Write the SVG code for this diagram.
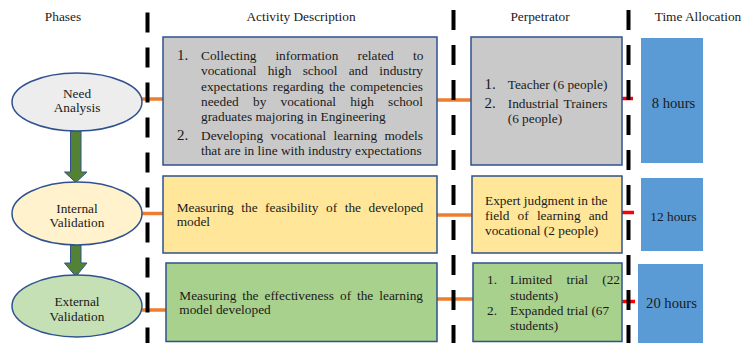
<svg xmlns="http://www.w3.org/2000/svg" width="752" height="343" viewBox="0 0 752 343">
<style>
text{font-family:"Liberation Serif","Times New Roman",serif;font-size:13.33px;fill:#1a1a1a}
.hd{text-anchor:middle}
.c{text-anchor:middle}
.num{font-size:15px}
.box{stroke:#2F528F;stroke-width:1.5}
.time{fill:#5B9BD5}
.t15{font-size:14.67px;text-anchor:middle}
.or{stroke:#ED7D31;stroke-width:3.5;fill:none}
.rd{stroke:#FF0000;stroke-width:3.5;fill:none}
.dash{stroke:#000;stroke-width:4;stroke-dasharray:20 15;fill:none}
.arr{fill:#548235;stroke:#2F528F;stroke-width:1}
</style>
<rect width="752" height="343" fill="#fff"/>

<g id="connectors">
<line class="or" x1="142" y1="99" x2="163" y2="99"/>
<line class="or" x1="142" y1="213.5" x2="163" y2="213.5"/>
<line class="or" x1="142" y1="310" x2="166" y2="310"/>
<line class="or" x1="437" y1="100" x2="471" y2="100"/>
<line class="or" x1="437" y1="215" x2="472" y2="215"/>
<line class="or" x1="437" y1="299" x2="473" y2="299"/>
<line class="rd" x1="622" y1="98.5" x2="633" y2="98.5"/>
<line class="rd" x1="622" y1="212.5" x2="634" y2="212.5"/>
<line class="rd" x1="622" y1="301.5" x2="635" y2="301.5"/>
<path class="arr" d="M70.5 131 H81 V172 H87 L75.8 182.5 L64.5 172 H70.5 Z"/>
<path class="arr" d="M70.5 245 H81 V263 H87 L75.8 276.5 L64.5 263 H70.5 Z"/>
</g>

<g id="headers">
<text class="hd" x="63" y="21">Phases</text>
<text class="hd" x="301" y="21">Activity Description</text>
<text class="hd" x="540" y="21">Perpetrator</text>
<text class="hd" x="698" y="21">Time Allocation</text>
</g>

<g id="need-analysis">
<ellipse class="box" cx="77" cy="102" rx="65" ry="29" fill="#EDEDED"/>
<text class="c" x="77" y="97.5">Need</text>
<text class="c" x="77" y="112">Analysis</text>
</g>
<g id="internal-validation">
<ellipse class="box" cx="77" cy="213.5" rx="65" ry="31.5" fill="#FFF2CC"/>
<text class="c" x="77" y="213">Internal</text>
<text class="c" x="77" y="227">Validation</text>
</g>
<g id="external-validation">
<ellipse class="box" cx="77" cy="306" rx="65" ry="31" fill="#C5E0B4"/>
<text class="c" x="77" y="306">External</text>
<text class="c" x="77" y="321">Validation</text>
</g>

<g id="activity-1">
<rect class="box" x="163" y="37" width="274" height="128" fill="#C9C9C9"/>
<text class="num" x="177" y="60">1.</text>
<text y="60"><tspan x="201">Collecting</tspan><tspan x="275.4">information</tspan><tspan x="357.5">related</tspan><tspan x="413">to</tspan></text>
<text y="75.3"><tspan x="201">vocational</tspan><tspan x="267.7">high</tspan><tspan x="302.7">school</tspan><tspan x="348.7">and</tspan><tspan x="379.3">industry</tspan></text>
<text y="90.6"><tspan x="201">expectations</tspan><tspan x="272.7">regarding</tspan><tspan x="328.9">the</tspan><tspan x="350.3">competencies</tspan></text>
<text y="105.9"><tspan x="201">needed</tspan><tspan x="253">by</tspan><tspan x="280.5">vocational</tspan><tspan x="350.2">high</tspan><tspan x="388.1">school</tspan></text>
<text x="201" y="121.2">graduates majoring in Engineering</text>
<text class="num" x="177" y="140">2.</text>
<text y="139.5"><tspan x="201">Developing</tspan><tspan x="270.6">vocational</tspan><tspan x="333.5">learning</tspan><tspan x="384.5">models</tspan></text>
<text x="201" y="154.8">that are in line with industry expectations</text>
</g>

<g id="activity-2">
<rect class="box" x="163" y="176" width="274" height="77" fill="#FFE699"/>
<text y="212.3"><tspan x="176.7">Measuring</tspan><tspan x="241.3">the</tspan><tspan x="265.1">feasibility</tspan><tspan x="326">of</tspan><tspan x="344.7">the</tspan><tspan x="368.5">developed</tspan></text>
<text x="176.7" y="226">model</text>
</g>

<g id="activity-3">
<rect class="box" x="166" y="263" width="271" height="78.5" fill="#A9D18E"/>
<text y="300"><tspan x="179.3">Measuring</tspan><tspan x="242.2">the</tspan><tspan x="264.5">effectiveness</tspan><tspan x="340">of</tspan><tspan x="357">the</tspan><tspan x="379.3">learning</tspan></text>
<text x="179.3" y="314.3">model developed</text>
</g>

<g id="perpetrator-1">
<rect class="box" x="471" y="37" width="151" height="128" fill="#C9C9C9"/>
<text class="num" x="484.5" y="89">1.</text>
<text x="507.7" y="89">Teacher (6 people)</text>
<text class="num" x="484.5" y="108">2.</text>
<text y="108"><tspan x="507.7">Industrial</tspan><tspan x="563.6">Trainers</tspan></text>
<text x="507.7" y="123">(6 people)</text>
</g>

<g id="perpetrator-2">
<rect class="box" x="472" y="176" width="150" height="77" fill="#FFE699"/>
<text x="485" y="204.5">Expert judgment in the</text>
<text y="220"><tspan x="485">field</tspan><tspan x="517.6">of</tspan><tspan x="536.9">learning</tspan><tspan x="588.7">and</tspan></text>
<text x="485" y="235.3">vocational (2 people)</text>
</g>

<g id="perpetrator-3">
<rect class="box" x="473" y="263" width="149" height="78.5" fill="#A9D18E"/>
<text x="487" y="284.3">1.</text>
<text y="284.3"><tspan x="510">Limited</tspan><tspan x="566.5">trial</tspan><tspan x="602.2">(22</tspan></text>
<text x="510" y="299.5">students)</text>
<text x="487" y="315">2.</text>
<text x="510" y="315">Expanded trial (67</text>
<text x="510" y="330.3">students)</text>
</g>

<g id="time-1">
<rect class="time" x="641" y="38" width="62" height="125"/>
<text class="t15" x="673.5" y="107.5">8 hours</text>
</g>
<g id="time-2">
<rect class="time" x="641" y="178" width="62" height="73"/>
<text class="c" x="673.5" y="220.5">12 hours</text>
</g>
<g id="time-3">
<rect class="time" x="638" y="264" width="65" height="79"/>
<text class="t15" x="671.5" y="308">20 hours</text>
</g>

<g id="dividers">
<line class="dash" x1="147.5" y1="12.5" x2="147.5" y2="343"/>
<line class="dash" x1="453.5" y1="10" x2="453.5" y2="343"/>
<line class="dash" x1="628.5" y1="10" x2="628.5" y2="343"/>
</g>
</svg>
